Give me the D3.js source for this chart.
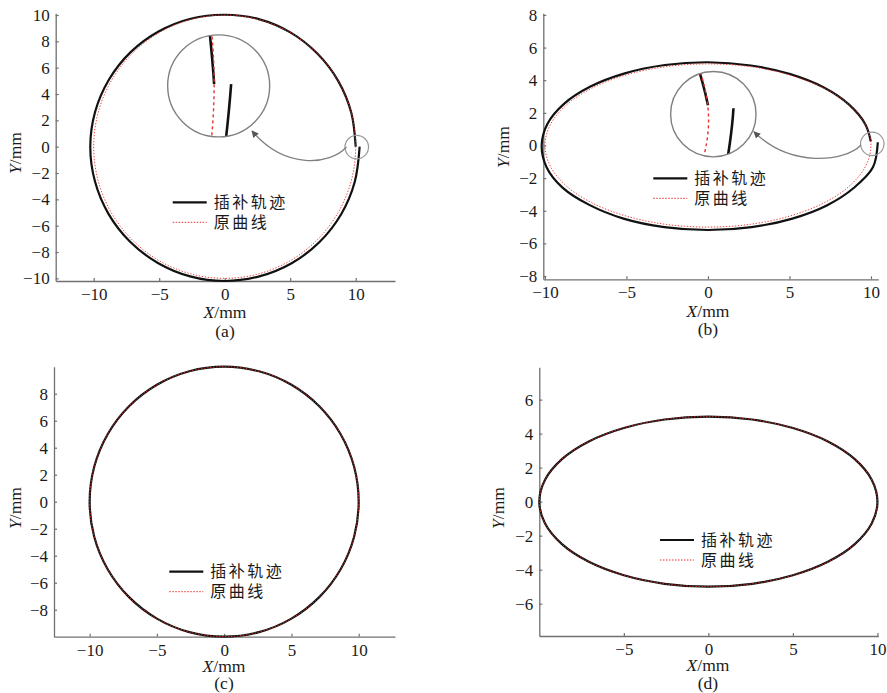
<!DOCTYPE html>
<html>
<head>
<meta charset="utf-8">
<script src="https://cdn.jsdelivr.net/npm/d3@7"></script>
<style>
  body { margin: 0; background: #fff; }
  svg { display: block; }
  .serif { font-family: "Liberation Serif", "Times New Roman", Times, serif; }
  .cjk { font-family: "Noto Sans CJK SC", sans-serif; }
</style>
</head>
<body>
<svg id="fig" width="887" height="693"></svg>
<script>
// Original curves, sampled every 15° (closed)
const circleX = [10, 9.66, 8.66, 7.07, 5, 2.59, 0, -2.59, -5, -7.07, -8.66, -9.66,
                 -10, -9.66, -8.66, -7.07, -5, -2.59, 0, 2.59, 5, 7.07, 8.66, 9.66];
const circleY = [0, 2.59, 5, 7.07, 8.66, 9.66, 10, 9.66, 8.66, 7.07, 5, 2.59,
                 0, -2.59, -5, -7.07, -8.66, -9.66, -10, -9.66, -8.66, -7.07, -5, -2.59];
const ellipseX = [10, 9.66, 8.66, 7.07, 5, 2.59, 0, -2.59, -5, -7.07, -8.66, -9.66,
                  -10, -9.66, -8.66, -7.07, -5, -2.59, 0, 2.59, 5, 7.07, 8.66, 9.66];
const ellipseY = [0, 1.29, 2.5, 3.54, 4.33, 4.83, 5, 4.83, 4.33, 3.54, 2.5, 1.29,
                  0, -1.29, -2.5, -3.54, -4.33, -4.83, -5, -4.83, -4.33, -3.54, -2.5, -1.29];

// Interpolated tool paths with drift (open, start → end)
const pathAX = [10.00, 9.66, 8.66, 7.07, 5.01, 2.60, 0, -2.60, -5.05, -7.18, -8.83, -9.89,
                -10.26, -9.90, -8.86, -7.22, -5.10, -2.64, 0, 2.64, 5.11, 7.24, 8.89, 9.93, 10.30];
const pathAY = [0, 2.59, 5.00, 7.07, 8.68, 9.69, 10.02, 9.72, 8.75, 7.18, 5.10, 2.65,
                0, -2.65, -5.12, -7.22, -8.83, -9.85, -10.20, -9.85, -8.85, -7.24, -5.13, -2.66, 0];
const pathBX = [9.99, 9.66, 8.66, 7.11, 5.05, 2.63, 0, -2.64, -5.10, -7.21, -8.83, -9.85,
                -10.20, -9.90, -8.92, -7.28, -5.18, -2.68, 0, 2.68, 5.18, 7.32, 8.96, 10.12, 10.42];
const pathBY = [0.25, 1.29, 2.50, 3.55, 4.37, 4.90, 5.10, 4.93, 4.42, 3.61, 2.55, 1.32,
                0, -1.33, -2.58, -3.64, -4.48, -5.00, -5.18, -5.00, -4.48, -3.66, -2.59, -1.34, 0.20];

// Tick values
const ticksAX = [-10, -5, 0, 5, 10];
const ticksAY = [-10, -8, -6, -4, -2, 0, 2, 4, 6, 8, 10];
const ticksBX = [-10, -5, 0, 5, 10];
const ticksBY = [-8, -6, -4, -2, 0, 2, 4, 6, 8];
const ticksCX = [-10, -5, 0, 5, 10];
const ticksCY = [-8, -6, -4, -2, 0, 2, 4, 6, 8];
const ticksDX = [-5, 0, 5, 10];
const ticksDY = [-6, -4, -2, 0, 2, 4, 6];

const legendLabels = ["插补轨迹", "原曲线"];
const panelTags = ["(a)", "(b)", "(c)", "(d)"];

const zip = (xs, ys) => xs.map((x, i) => [x, ys[i]]);

const panels = [
  { tag: panelTags[0], xr: [55.7, 395], xd: [-12.9, 13.0], yr: [281, 13.3], yd: [-10.2, 10.13],
    tx: ticksAX, ty: ticksAY, orig: zip(circleX, circleY), path: zip(pathAX, pathAY),
    xlab: [225, 318], tagPos: [225, 337], ylab: [15, 153], legend: [172.7, 202.3],
    inset: { focus: [10.08, -0.03], fr: 0.9, center: [-0.46, 4.62], R: 51,
             arrow: [[346.5, 147], [330, 165], [285, 170], [252, 131]] } },
  { tag: panelTags[1], xr: [543.3, 878.3], xd: [-10.1, 10.45], yr: [279.3, 13.3], yd: [-8.2, 8.1],
    tx: ticksBX, ty: ticksBY, orig: zip(ellipseX, ellipseY), path: zip(pathBX, pathBY),
    xlab: [708, 317], tagPos: [708, 335], ylab: [503.3, 147], legend: [653.3, 178.3],
    inset: { focus: [10.08, 0.1], fr: 0.72, center: [0.33, 1.92], R: 42.7,
             arrow: [[861, 145], [845, 162], [790, 168], [754, 131.7]] } },
  { tag: panelTags[2], xr: [54, 395], xd: [-12.65, 12.7], yr: [636.7, 366.7], yd: [-10, 10],
    tx: ticksCX, ty: ticksCY, orig: zip(circleX, circleY), closedPath: zip(circleX, circleY),
    xlab: [224, 672], tagPos: [224, 689], ylab: [15, 508], legend: [169.3, 571.7] },
  { tag: panelTags[3], xr: [539.3, 878.3], xd: [-10, 10.05], yr: [636, 367.3], yd: [-7.9, 7.9],
    tx: ticksDX, ty: ticksDY, orig: zip(ellipseX, ellipseY), closedPath: zip(ellipseX, ellipseY),
    xlab: [708, 671], tagPos: [708, 689], ylab: [498.3, 508], legend: [660, 540] }
];

const svg = d3.select("#fig");
const AXIS = "#707070";
const GREY = "#808080";
const RED = "#e8322c";

const defs = svg.append("defs");
defs.append("marker")
  .attr("id", "arrowHead")
  .attr("viewBox", "0 0 10 10")
  .attr("refX", 9).attr("refY", 5)
  .attr("markerWidth", 7).attr("markerHeight", 7)
  .attr("markerUnits", "userSpaceOnUse")
  .attr("orient", "auto")
  .append("path").attr("d", "M0,0 L10,5 L0,10 z").attr("fill", "#555");

function drawCurves(g, x, y, p, blackW, redW, redDash) {
  const closed = d3.line().x(d => x(d[0])).y(d => y(d[1])).curve(d3.curveCatmullRomClosed);
  const open = d3.line().x(d => x(d[0])).y(d => y(d[1])).curve(d3.curveCatmullRom);
  const black = p.path ? open(p.path) : closed(p.closedPath);
  g.append("path").attr("d", black)
    .attr("fill", "none").attr("stroke", "#111").attr("stroke-width", blackW);
  g.append("path").attr("d", closed(p.orig))
    .attr("fill", "none").attr("stroke", RED).attr("stroke-width", redW)
    .attr("stroke-dasharray", redDash);
}

panels.forEach((p, i) => {
  const x = d3.scaleLinear().domain(p.xd).range(p.xr);
  const y = d3.scaleLinear().domain(p.yd).range(p.yr);
  const g = svg.append("g");

  // axes (ticks point inward)
  const fmt = d => d < 0 ? "\u2212" + Math.abs(d) : String(d);
  const ax = g.append("g").attr("transform", `translate(0,${p.yr[0]})`)
    .call(d3.axisBottom(x).tickValues(p.tx).tickSize(-3).tickSizeOuter(0).tickPadding(7).tickFormat(fmt));
  const ay = g.append("g").attr("transform", `translate(${p.xr[0]},0)`)
    .call(d3.axisLeft(y).tickValues(p.ty).tickSize(-3).tickSizeOuter(0).tickPadding(6).tickFormat(fmt));
  [ax, ay].forEach(a => {
    a.attr("font-family", null).attr("font-size", null);
    a.select(".domain").attr("stroke", AXIS).attr("stroke-width", 1.3);
    a.selectAll(".tick line").attr("stroke", AXIS).attr("stroke-width", 1.2);
    a.selectAll(".tick text").attr("class", "serif")
      .style("font-size", "17px").attr("fill", "#1a1a1a");
  });

  // curves
  drawCurves(g, x, y, p, 2.2, 0.9, "1.4,1.6");

  // magnified inset
  if (p.inset) {
    const s = p.inset;
    const icx = x(s.center[0]), icy = y(s.center[1]);
    const k = s.R / s.fr;
    const fx = x(s.focus[0]), fy = y(s.focus[1]);
    const smallR = s.fr * (x(1) - x(0));
    const xi = d3.scaleLinear().domain([s.focus[0] - 1, s.focus[0] + 1]).range([icx - k, icx + k]);
    const yi = d3.scaleLinear().domain([s.focus[1] - 1, s.focus[1] + 1]).range([icy + k, icy - k]);
    const clipId = "inset" + i;
    defs.append("clipPath").attr("id", clipId)
      .append("circle").attr("cx", icx).attr("cy", icy).attr("r", s.R);
    const gi = g.append("g").attr("clip-path", `url(#${clipId})`);
    drawCurves(gi, xi, yi, p, 2.6, 1.4, "3,3");
    g.append("circle").attr("cx", icx).attr("cy", icy).attr("r", s.R)
      .attr("fill", "none").attr("stroke", GREY).attr("stroke-width", 1.4);
    g.append("circle").attr("cx", fx).attr("cy", fy).attr("r", smallR)
      .attr("fill", "none").attr("stroke", "#999").attr("stroke-width", 1.2);
    const a = s.arrow;
    g.append("path")
      .attr("d", `M${a[0][0]},${a[0][1]} C${a[1][0]},${a[1][1]} ${a[2][0]},${a[2][1]} ${a[3][0]},${a[3][1]}`)
      .attr("fill", "none").attr("stroke", GREY).attr("stroke-width", 1.3)
      .attr("marker-end", "url(#arrowHead)");
  }

  // legend
  const [lx, ly] = p.legend;
  g.append("line").attr("x1", lx).attr("x2", lx + 34).attr("y1", ly).attr("y2", ly)
    .attr("stroke", "#111").attr("stroke-width", 2.2);
  g.append("line").attr("x1", lx).attr("x2", lx + 34).attr("y1", ly + 20).attr("y2", ly + 20)
    .attr("stroke", RED).attr("stroke-width", 1).attr("stroke-dasharray", "1.5,1.5");
  legendLabels.forEach((t, j) => {
    g.append("text").attr("class", "cjk").attr("x", lx + 41).attr("y", ly + j * 20 + 5.5)
      .style("font-size", "16px").attr("letter-spacing", 2.5)
      .attr("fill", "#1a1a1a").text(t);
  });

  // axis titles and panel tag
  const xt = g.append("text").attr("class", "serif").attr("x", p.xlab[0]).attr("y", p.xlab[1])
    .attr("text-anchor", "middle").style("font-size", "17.5px").attr("fill", "#1a1a1a");
  xt.append("tspan").attr("font-style", "italic").text("X");
  xt.append("tspan").text("/mm");
  const yt = g.append("text").attr("class", "serif")
    .attr("transform", `translate(${p.ylab[0] + 5.5},${p.ylab[1]}) rotate(-90)`)
    .attr("text-anchor", "middle").style("font-size", "17.5px").attr("fill", "#1a1a1a");
  yt.append("tspan").attr("font-style", "italic").text("Y");
  yt.append("tspan").text("/mm");
  g.append("text").attr("class", "serif").attr("x", p.tagPos[0]).attr("y", p.tagPos[1])
    .attr("text-anchor", "middle").style("font-size", "17.5px")
    .attr("fill", "#1a1a1a").text(p.tag);
});
</script>
</body>
</html>
